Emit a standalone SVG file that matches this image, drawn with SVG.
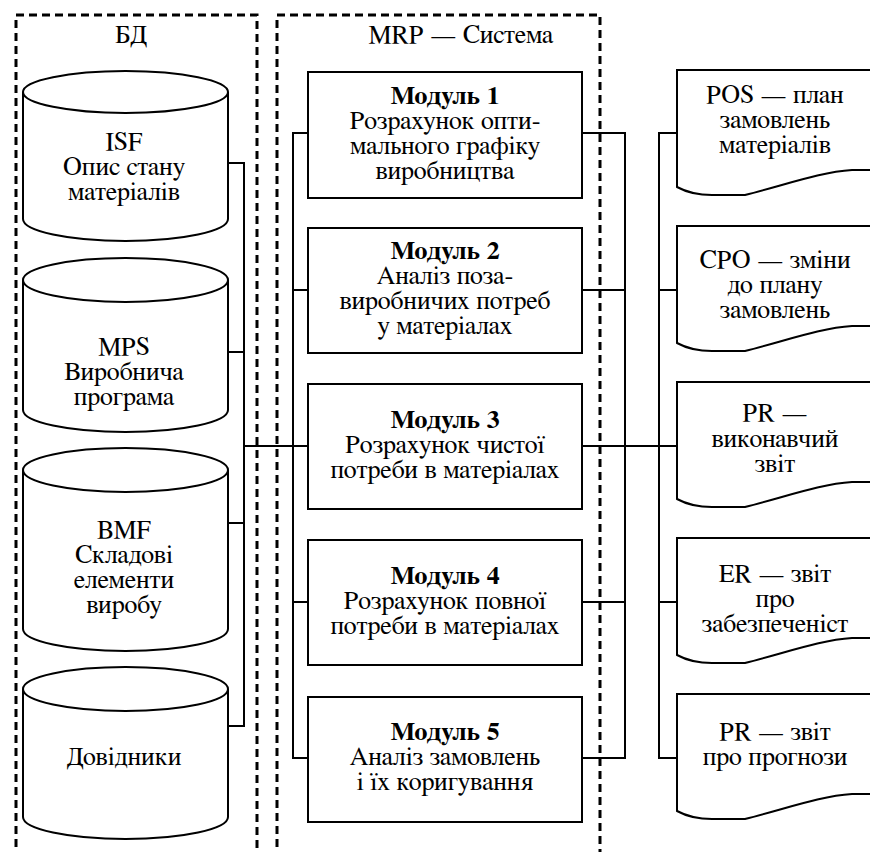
<svg xmlns="http://www.w3.org/2000/svg" width="870" height="852" viewBox="0 0 870 852">
<style>
text{font-family:'FreeSerif','Liberation Serif','Noto Serif CJK SC',serif;font-size:26px;fill:#000;text-anchor:middle}
.b{font-weight:bold}
.frame{fill:none;stroke:#000;stroke-width:3;stroke-dasharray:8 5}
.shape{fill:#fff;stroke:#000;stroke-width:2}
.wire{fill:none;stroke:#000;stroke-width:2}
</style>
<rect width="870" height="852" fill="#fff"/>
<g id="frame-bd">
<path class="frame" d="M16,860 V15 H257 V860"/>
<text x="131" y="43">БД</text>
</g>
<g id="frame-mrp">
<path class="frame" d="M277,860 V15 H600 V860"/>
<text x="461" y="43">MRP — Система</text>
</g>
<g id="connectors">
<path class="wire" d="M228,163 H244 V726 H227 M227,352 H244 M227,523 H244 M244,446 H308"/>
<path class="wire" d="M308,133 H293 V758 H308 M293,290 H308 M293,602 H308"/>
<path class="wire" d="M582,133 H625 V758 H582 M582,290 H625 M582,602 H625 M582,446 H677"/>
<path class="wire" d="M677,133 H659 V758 H677 M659,290 H677 M659,602 H677"/>
</g>
<g id="db-isf">
<path class="shape" d="M23,92 A102.5,21 0 0 1 228,92 V219 A102.5,22 0 0 1 23,219 Z"/>
<path class="wire" d="M23,92 A102.5,21 0 0 0 228,92"/>
<text x="124" y="150">ISF</text>
<text x="124" y="175">Опис стану</text>
<text x="124" y="200">матеріалів</text>
</g>
<g id="db-mps">
<path class="shape" d="M23,280 A102.5,22 0 0 1 228,280 V410 A102.5,22 0 0 1 23,410 Z"/>
<path class="wire" d="M23,280 A102.5,22 0 0 0 228,280"/>
<text x="124" y="355">MPS</text>
<text x="124" y="380">Виробнича</text>
<text x="124" y="405">програма</text>
</g>
<g id="db-bmf">
<path class="shape" d="M23,470 A102.5,22 0 0 1 228,470 V629 A102.5,22 0 0 1 23,629 Z"/>
<path class="wire" d="M23,470 A102.5,22 0 0 0 228,470"/>
<text x="124" y="538">BMF</text>
<text x="124" y="563">Складові</text>
<text x="124" y="588">елементи</text>
<text x="124" y="613">виробу</text>
</g>
<g id="db-dovidnyky">
<path class="shape" d="M23,689 A102.5,22 0 0 1 228,689 V817 A102.5,22 0 0 1 23,817 Z"/>
<path class="wire" d="M23,689 A102.5,22 0 0 0 228,689"/>
<text x="124" y="765">Довідники</text>
</g>
<g id="module-1">
<rect class="shape" x="308" y="72" width="274" height="126"/>
<text class="b" x="445" y="104">Модуль 1</text>
<text x="445" y="129">Розрахунок опти-</text>
<text x="445" y="154">мального графіку</text>
<text x="445" y="179">виробництва</text>
</g>
<g id="module-2">
<rect class="shape" x="308" y="228" width="274" height="125"/>
<text class="b" x="445" y="259">Модуль 2</text>
<text x="445" y="284">Аналіз поза-</text>
<text x="445" y="309">виробничих потреб</text>
<text x="445" y="334">у матеріалах</text>
</g>
<g id="module-3">
<rect class="shape" x="308" y="384" width="274" height="125"/>
<text class="b" x="445" y="428">Модуль 3</text>
<text x="445" y="453">Розрахунок чистої</text>
<text x="445" y="478">потреби в матеріалах</text>
</g>
<g id="module-4">
<rect class="shape" x="308" y="540" width="274" height="125"/>
<text class="b" x="445" y="584">Модуль 4</text>
<text x="445" y="609">Розрахунок повної</text>
<text x="445" y="634">потреби в матеріалах</text>
</g>
<g id="module-5">
<rect class="shape" x="308" y="697" width="274" height="125"/>
<text class="b" x="445" y="740">Модуль 5</text>
<text x="445" y="765">Аналіз замовлень</text>
<text x="445" y="790">і їх коригування</text>
</g>
<g id="doc-pos">
<path class="shape" d="M880,70 H677 V187 C688,193 698,195 712,195 H745 C785,185 820,172 852,170 H880"/>
<text x="775" y="103">POS — план</text>
<text x="775" y="128">замовлень</text>
<text x="775" y="153">матеріалів</text>
</g>
<g id="doc-cpo">
<path class="shape" d="M880,226 H677 V343 C688,349 698,351 712,351 H745 C785,341 820,328 852,326 H880"/>
<text x="775" y="268">CPO — зміни</text>
<text x="775" y="293">до плану</text>
<text x="775" y="318">замовлень</text>
</g>
<g id="doc-pr1">
<path class="shape" d="M880,382 H677 V499 C688,505 698,507 712,507 H745 C785,497 820,484 852,482 H880"/>
<text x="775" y="421">PR —</text>
<text x="775" y="447">виконавчий</text>
<text x="775" y="472">звіт</text>
</g>
<g id="doc-er">
<path class="shape" d="M880,538 H677 V655 C688,661 698,663 712,663 H745 C785,653 820,640 852,638 H880"/>
<text x="775" y="582">ER — звіт</text>
<text x="775" y="607">про</text>
<text x="775" y="632">забезпеченіст</text>
</g>
<g id="doc-pr2">
<path class="shape" d="M880,694 H677 V811 C688,817 698,819 712,819 H745 C785,809 820,796 852,794 H880"/>
<text x="775" y="740">PR — звіт</text>
<text x="775" y="765">про прогнози</text>
</g>
</svg>
